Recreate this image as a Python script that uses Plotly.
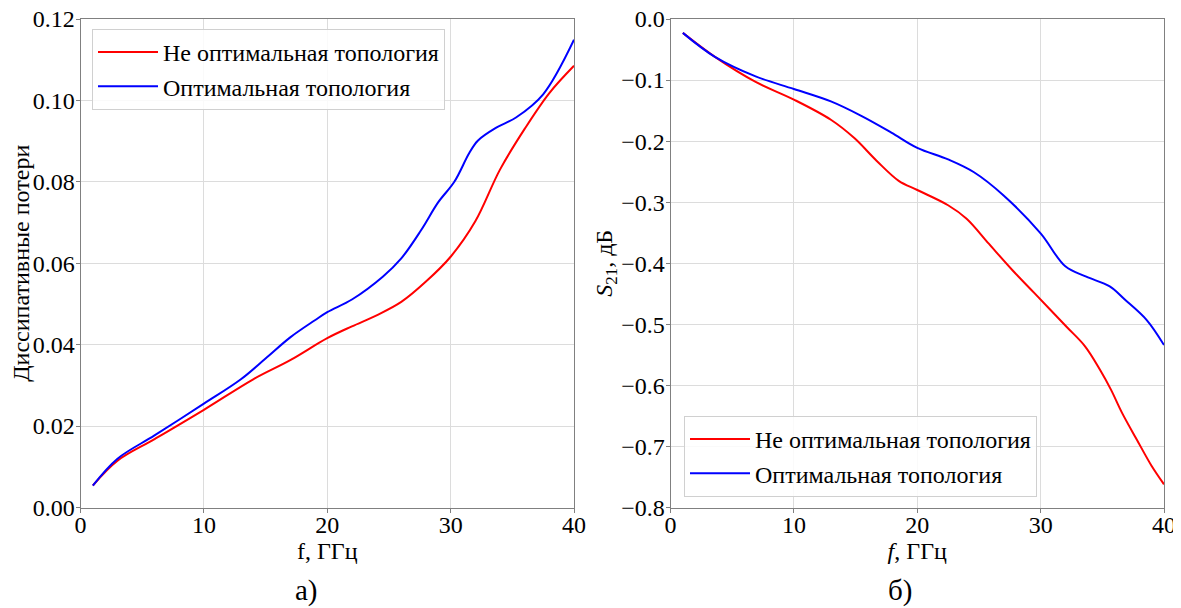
import plotly.graph_objects as go

# ---- Data ----
# Left panel: dissipative losses
f_loss_nonopt = [1, 3, 6, 10, 14, 17, 20, 22, 24, 26, 28, 30, 32, 34, 36, 38, 40]
loss_nonopt = [0.0054, 0.0115, 0.0168, 0.0240, 0.0315, 0.0362, 0.0416, 0.0445, 0.0472,
               0.0505, 0.0555, 0.0616, 0.0703, 0.0830, 0.0930, 0.1018, 0.1085]

f_loss_opt = [1, 3, 6, 10, 13, 15, 17, 19, 20, 22, 24.5, 26, 27.6, 29, 30.3, 31.5, 32.2,
              33.7, 35.3, 37.5, 40]
loss_opt = [0.0054, 0.0120, 0.0177, 0.0255, 0.0315, 0.0366, 0.0418, 0.0460, 0.0480, 0.0511,
            0.0567, 0.0612, 0.0681, 0.0750, 0.0800, 0.0870, 0.0901, 0.0933, 0.0958, 0.1015,
            0.1149]

# Right panel: S21, dB
f_s21_nonopt = [1, 3.6, 6.9, 10, 13, 14.9, 16.7, 18.5, 20, 22.5, 24, 25.8, 27.7, 29.5, 32.1,
                33.6, 34.8, 35.7, 36.6, 37.8, 39, 40]
s21_nonopt = [-0.0227, -0.062, -0.103, -0.132, -0.165, -0.195, -0.232, -0.265, -0.280, -0.305,
              -0.327, -0.368, -0.411, -0.449, -0.504, -0.536, -0.574, -0.607, -0.645, -0.689,
              -0.732, -0.762]

f_s21_opt = [1, 3.6, 6.9, 10, 13, 15.5, 17.9, 20, 22.5, 24.6, 27, 30, 32, 33.7, 35.6, 36.8,
             38.6, 40]
s21_opt = [-0.0227, -0.062, -0.094, -0.1146, -0.135, -0.159, -0.186, -0.211, -0.230, -0.251,
           -0.289, -0.351, -0.405, -0.422, -0.438, -0.459, -0.493, -0.534]

name_nonopt = "Не оптимальная топология"
name_opt = "Оптимальная топология"
x_ticks = [0, 10, 20, 30, 40]

FONT = "Liberation Serif"
# page has an 8px body margin, so the figure is drawn 8px in from the window corner
OFF = 8
W, H = 1173, 600


def px(x):
    return (x - OFF) / W


def py(y):
    return 1 - (y - OFF) / H


fig = go.Figure()
fig.add_trace(go.Scatter(x=f_loss_nonopt, y=loss_nonopt, mode="lines", name=name_nonopt,
                         line=dict(color="#ff0000", width=2, shape="spline", smoothing=1.0),
                         xaxis="x", yaxis="y", legend="legend"))
fig.add_trace(go.Scatter(x=f_loss_opt, y=loss_opt, mode="lines", name=name_opt,
                         line=dict(color="#0000ff", width=2, shape="spline", smoothing=1.0),
                         xaxis="x", yaxis="y", legend="legend"))
fig.add_trace(go.Scatter(x=f_s21_nonopt, y=s21_nonopt, mode="lines", name=name_nonopt,
                         line=dict(color="#ff0000", width=2, shape="spline", smoothing=1.0),
                         xaxis="x2", yaxis="y2", legend="legend2"))
fig.add_trace(go.Scatter(x=f_s21_opt, y=s21_opt, mode="lines", name=name_opt,
                         line=dict(color="#0000ff", width=2, shape="spline", smoothing=1.0),
                         xaxis="x2", yaxis="y2", legend="legend2"))

axis_common = dict(showline=True, linecolor="#808080", linewidth=1, mirror=True,
                   showgrid=True, gridcolor="#dcdcdc", gridwidth=1, zeroline=False,
                   ticks="outside", ticklen=4, tickcolor="#808080", automargin=False,
                   ticklabeloverflow="allow",
                   tickfont=dict(family=FONT, size=24, color="black"))

ytop = py(19)
ybot = py(507.5)

legend_common = dict(bgcolor="rgba(255,255,255,0.85)", bordercolor="#d0d0d0", borderwidth=1,
                     font=dict(family=FONT, size=24), tracegroupgap=0, itemwidth=60)

fig.update_layout(
    width=W, height=H, autosize=False,
    margin=dict(l=0, r=0, t=0, b=0),
    paper_bgcolor="white", plot_bgcolor="white",
    font=dict(family=FONT, size=22, color="black"),
    xaxis=dict(axis_common, domain=[px(80.5), px(574)], range=[0, 40], tickvals=x_ticks,
               anchor="y", ticklabelstandoff=-8,
               title=dict(text="f, ГГц", font=dict(family=FONT, size=24), standoff=2)),
    yaxis=dict(axis_common, domain=[ybot, ytop], range=[0, 0.12], dtick=0.02,
               tickformat=".2f", anchor="x", ticklabelstandoff=-4,
               title=dict(text="Диссипативные потери", font=dict(family=FONT, size=24),
                          standoff=10)),
    xaxis2=dict(axis_common, domain=[px(670.5), px(1164)], range=[0, 40], tickvals=x_ticks,
                anchor="y2", ticklabelstandoff=-8,
                title=dict(text="<i>f</i>, ГГц", font=dict(family=FONT, size=24), standoff=2)),
    yaxis2=dict(axis_common, domain=[ybot, ytop], range=[-0.8, 0], dtick=0.1,
                tickformat=".1f", anchor="x2", ticklabelstandoff=-4,
                title=dict(text="<i>S</i><sub>21</sub>, дБ", font=dict(family=FONT, size=24),
                           standoff=0)),
    legend=dict(legend_common, x=px(92), y=py(29), xanchor="left", yanchor="top"),
    legend2=dict(legend_common, x=px(684), y=py(497), xanchor="left", yanchor="bottom"),
    annotations=[
        dict(text="а)", x=px(306), y=py(590), xref="paper", yref="paper",
             showarrow=False, font=dict(family=FONT, size=29), xanchor="center",
             yanchor="middle"),
        dict(text="б)", x=px(900), y=py(590), xref="paper", yref="paper",
             showarrow=False, font=dict(family=FONT, size=29), xanchor="center",
             yanchor="middle"),
    ],
)

fig.write_html("out.html")
